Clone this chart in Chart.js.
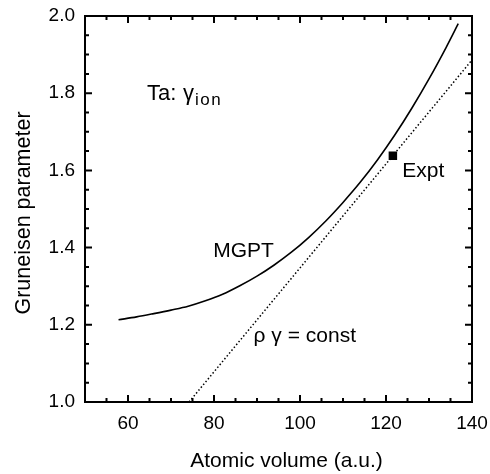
<!DOCTYPE html>
<html>
<head>
<meta charset="utf-8">
<script src="https://cdn.jsdelivr.net/npm/chart.js@4.4.1/dist/chart.umd.min.js"></script>
<style>
  html, body { margin: 0; padding: 0; background: #fff; }
  #wrap { width: 490px; height: 474px; }
</style>
</head>
<body>
<div id="wrap"><canvas id="gruneisen-chart" width="490" height="474"></canvas></div>
<script>
// MGPT curve
const mgptVolume = [57.8, 62, 66, 70, 74, 78, 82, 86, 90, 94, 98, 102, 106, 110, 114, 118, 122, 126, 130, 134, 136.8];
const mgptGamma  = [1.213, 1.2205, 1.229, 1.238, 1.248, 1.262, 1.279, 1.301, 1.326, 1.355, 1.388, 1.426, 1.469, 1.517, 1.569, 1.627, 1.691, 1.761, 1.837, 1.919, 1.980];

// rho * gamma = const line
const constVolume = [74.2, 140];
const constGamma  = [1.0, 1.886];

// experimental point
const exptVolume = [121.6];
const exptGamma  = [1.638];

const xTickValues = [60, 80, 100, 120, 140];
const yTickValues = [1.0, 1.2, 1.4, 1.6, 1.8, 2.0];

const xTitle = 'Atomic volume (a.u.)';
const yTitle = 'Gruneisen parameter';

const FONT = '"Liberation Sans", Arial, Helvetica, sans-serif';

function toPoints(xs, ys) {
    return xs.map((v, i) => ({ x: v, y: ys[i] }));
}

// Box round the plot, with inward ticks on all four sides
const frameAndTicks = {
    id: 'frameAndTicks',
    afterDraw(chart) {
        const { ctx, chartArea: a, scales: { x, y } } = chart;
        ctx.save();
        ctx.strokeStyle = '#000';
        ctx.lineWidth = 2;
        ctx.beginPath();
        // x ticks every 5, long ones every 20
        for (let v = 50; v <= 140; v += 5) {
            const px = x.getPixelForValue(v);
            const len = v % 20 === 0 ? 7 : 4;
            ctx.moveTo(px, a.bottom); ctx.lineTo(px, a.bottom - len);
            ctx.moveTo(px, a.top); ctx.lineTo(px, a.top + len);
        }
        // y ticks every 0.05, long ones every 0.2
        for (let k = 20; k <= 40; k++) {
            const py = y.getPixelForValue(k * 0.05);
            const len = k % 4 === 0 ? 7 : 4;
            ctx.moveTo(a.left, py); ctx.lineTo(a.left + len, py);
            ctx.moveTo(a.right, py); ctx.lineTo(a.right - len, py);
        }
        ctx.stroke();
        ctx.strokeRect(a.left, a.top, a.right - a.left, a.bottom - a.top);

        // axis titles
        ctx.fillStyle = '#000';
        ctx.font = '21px ' + FONT;
        ctx.textAlign = 'center';
        ctx.textBaseline = 'alphabetic';
        ctx.fillText(xTitle, (a.left + a.right) / 2 + 8, 467);
        ctx.font = '21.5px ' + FONT;
        ctx.translate(30, 213);
        ctx.rotate(-Math.PI / 2);
        ctx.fillText(yTitle, 0, 0);
        ctx.restore();
    }
};

// Text labels inside the plot, placed at data coordinates
const plotLabels = {
    id: 'plotLabels',
    afterDatasetsDraw(chart) {
        const { ctx, scales: { x, y } } = chart;
        ctx.save();
        ctx.fillStyle = '#000';
        ctx.textAlign = 'left';
        ctx.textBaseline = 'alphabetic';

        // Ta: gamma_ion
        const px = x.getPixelForValue(64.4);
        const py = y.getPixelForValue(1.7826);
        ctx.font = '22px ' + FONT;
        ctx.fillText('Ta:', px, py);
        ctx.fillText('\u03b3', px + 36, py);
        ctx.font = '17px ' + FONT;
        ctx.letterSpacing = '1.5px';
        ctx.fillText('ion', px + 48, py + 5);
        ctx.letterSpacing = '0px';

        ctx.font = '21px ' + FONT;
        ctx.fillText('MGPT', x.getPixelForValue(79.8), y.getPixelForValue(1.376));
        ctx.fillText('Expt', x.getPixelForValue(123.8), y.getPixelForValue(1.583));
        ctx.fillText('\u03c1 \u03b3 = const', x.getPixelForValue(89.2), y.getPixelForValue(1.156));
        ctx.restore();
    }
};

const ctx = document.getElementById('gruneisen-chart').getContext('2d');
new Chart(ctx, {
    type: 'scatter',
    data: {
        datasets: [
            {
                label: 'MGPT',
                data: toPoints(mgptVolume, mgptGamma),
                showLine: true,
                borderColor: '#000',
                borderWidth: 1.6,
                pointRadius: 0,
                cubicInterpolationMode: 'monotone'
            },
            {
                label: 'rho gamma = const',
                data: toPoints(constVolume, constGamma),
                showLine: true,
                borderColor: '#000',
                borderWidth: 1.5,
                borderDash: [1.5, 2.2],
                pointRadius: 0
            },
            {
                label: 'Expt',
                data: toPoints(exptVolume, exptGamma),
                pointStyle: 'rect',
                pointRadius: 6,
                backgroundColor: '#000',
                borderColor: '#000',
                borderWidth: 0
            }
        ]
    },
    options: {
        responsive: false,
        animation: false,
        events: [],
        layout: { padding: { top: 16, right: 18, left: 0, bottom: 0 } },
        plugins: {
            legend: { display: false },
            tooltip: { enabled: false }
        },
        scales: {
            x: {
                type: 'linear',
                min: 50,
                max: 140,
                grid: { display: false, drawTicks: false },
                border: { display: false },
                afterBuildTicks: s => { s.ticks = xTickValues.map(v => ({ value: v })); },
                afterFit: s => { s.height = 72; s.paddingLeft = 0; s.paddingRight = 0; },
                ticks: {
                    color: '#000',
                    padding: 10,
                    maxRotation: 0,
                    autoSkip: false,
                    font: { family: FONT, size: 19 }
                }
            },
            y: {
                type: 'linear',
                min: 1.0,
                max: 2.0,
                grid: { display: false, drawTicks: false },
                border: { display: false },
                afterBuildTicks: s => { s.ticks = yTickValues.map(v => ({ value: v })); },
                afterFit: s => { s.width = 85; s.paddingTop = 0; s.paddingBottom = 0; },
                ticks: {
                    color: '#000',
                    padding: 10,
                    autoSkip: false,
                    font: { family: FONT, size: 19 },
                    callback: v => Number(v).toFixed(1)
                }
            }
        }
    },
    plugins: [frameAndTicks, plotLabels]
});
</script>
</body>
</html>
